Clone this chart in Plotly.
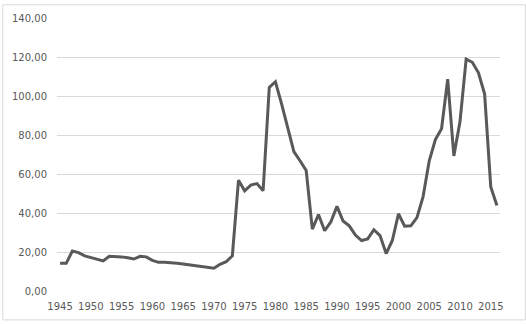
import plotly.graph_objects as go

years = list(range(1945, 2017))
prices = [
    14.2, 14.2, 20.5, 19.7, 18.0, 17.0, 16.0, 15.4, 17.8, 17.8,
    17.5, 17.0, 16.4, 17.8, 17.5, 15.7, 14.7, 14.7, 14.6, 14.2,
    13.9, 13.4, 13.0, 12.6, 12.1, 11.7, 13.7, 15.0, 18.0, 56.8,
    51.4, 54.3, 55.1, 51.4, 104.4, 107.3, 96.0, 83.0, 71.5, 66.8,
    61.8, 31.7, 39.2, 30.9, 35.4, 43.4, 35.9, 33.4, 28.7, 25.9,
    26.7, 31.4, 28.4, 19.2, 25.9, 39.6, 33.2, 33.4, 37.6, 48.4,
    66.8, 77.7, 83.2, 108.6, 69.3, 86.9, 118.9, 117.3, 111.9, 101.0,
    53.4, 43.8,
]
x_ticks = list(range(1945, 2016, 5))
y_ticks = [0, 20, 40, 60, 80, 100, 120, 140]

fig = go.Figure(go.Scatter(
    x=years, y=prices, mode="lines",
    line=dict(color="#595959", width=3),
    hoverinfo="x+y",
))

fig.update_layout(
    width=526, height=324,
    margin=dict(l=55, r=26, t=14, b=31),
    paper_bgcolor="white", plot_bgcolor="white",
    separators=", ",
    font=dict(family="DejaVu Sans", size=10, color="#595959"),
    showlegend=False,
    shapes=[dict(type="rect", xref="paper", yref="paper",
                 x0=-54.5/445, x1=1 + 25.5/445, y0=-29.5/279, y1=1 + 13.5/279,
                 line=dict(color="#d9d9d9", width=1))],
)
fig.update_xaxes(
    range=[1944.5, 2016.5], tickvals=x_ticks, showgrid=False,
    showline=False, zeroline=False, ticks="", ticklabelstandoff=8,
)
fig.update_yaxes(
    range=[0, 140], tickvals=y_ticks, tickformat=".2f",
    showgrid=True, gridcolor="#d9d9d9", gridwidth=1,
    zeroline=False, showline=False, ticks="", ticklabelstandoff=9,
)

fig.write_html(
    "out.html",
    config={"displayModeBar": False},
    post_script="document.body.style.margin='0';document.body.style.overflow='hidden';",
)
